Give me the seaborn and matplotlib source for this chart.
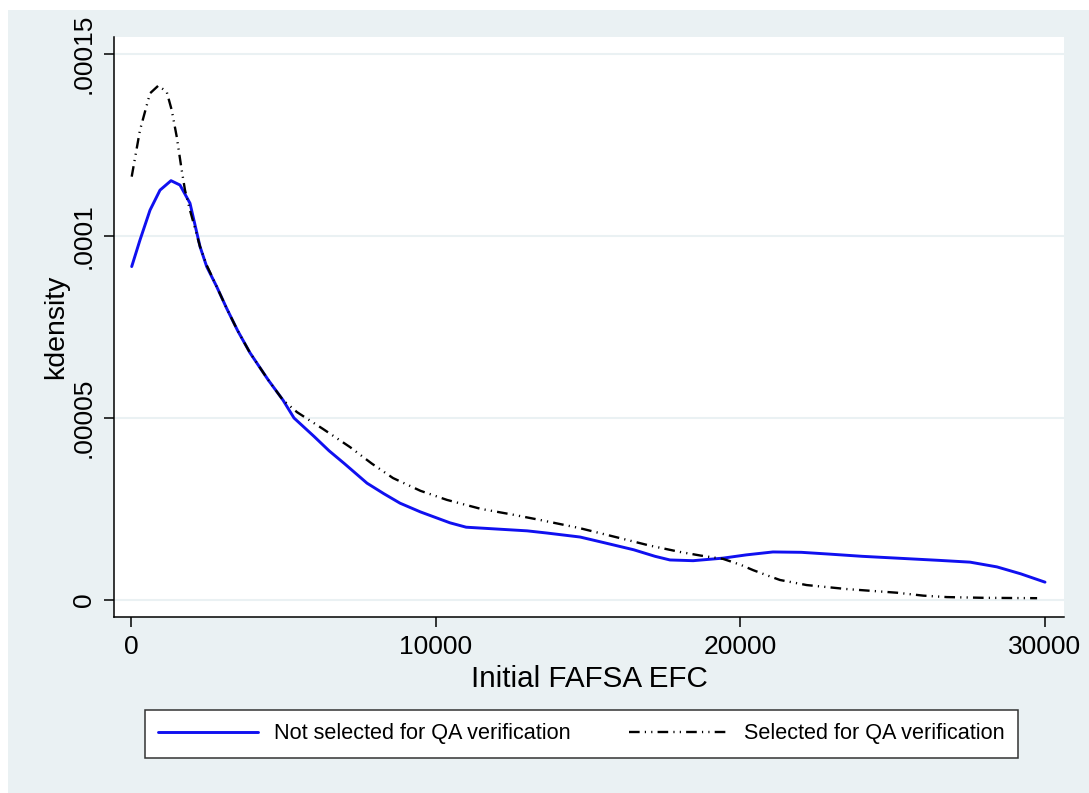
import numpy as np
import pandas as pd
import matplotlib
matplotlib.use("Agg")
import matplotlib.pyplot as plt
import seaborn as sns
from matplotlib.patches import Rectangle

## data (EFC in dollars, density in 1e-5)
efc_not_sel = [23, 295, 624, 952, 1313, 1608, 1936, 2265, 2484, 2812, 3141, 3500, 3906,
               4500, 4990, 5350, 6000, 6500, 7000, 7746, 8300, 8830, 9500, 10470, 11000,
               12000, 13000, 13650, 14740, 15500, 16500, 17200, 17690, 18450, 19430,
               20200, 21070, 22000, 22940, 24000, 25140, 26500, 27540, 28420, 29200, 30000]
dens_not_sel = [9.16, 9.89, 10.71, 11.26, 11.52, 11.40, 10.9, 9.71, 9.16, 8.61, 8.01, 7.4, 6.79,
                6.05, 5.49, 5.0, 4.5, 4.1, 3.75, 3.21, 2.92, 2.66, 2.42, 2.12, 2.0,
                1.95, 1.9, 1.84, 1.73, 1.58, 1.38, 1.2, 1.10, 1.08, 1.15,
                1.24, 1.32, 1.31, 1.26, 1.20, 1.15, 1.09, 1.04, 0.91, 0.72, 0.49]

efc_sel = [23, 295, 624, 896, 1172, 1336, 1500, 1664, 1772, 1936, 2265, 2484, 2812, 3141,
           3500, 3906, 4500, 4990, 5450, 6300, 7190, 7900, 8600, 9500, 10370, 11500,
           12500, 13420, 14700, 16050, 17000, 18020, 18700, 19430, 20000, 20420, 20900,
           21300, 22180, 23500, 25140, 26000, 26780, 28000, 29740]
dens_sel = [11.63, 12.91, 13.92, 14.13, 13.96, 13.46, 12.73, 11.81, 11.26, 10.71, 9.71, 9.2, 8.61, 8.01,
            7.4, 6.79, 6.05, 5.49, 5.16, 4.7, 4.2, 3.75, 3.35, 3.0, 2.75, 2.5,
            2.35, 2.2, 1.98, 1.7, 1.5, 1.32, 1.22, 1.13, 0.97, 0.82, 0.67,
            0.55, 0.41, 0.30, 0.20, 0.12, 0.08, 0.06, 0.05]

x_ticks = [0, 10000, 20000, 30000]
x_tick_labels = ["0", "10000", "20000", "30000"]
y_ticks = [0, 0.00005, 0.0001, 0.00015]
y_tick_labels = ["0", ".00005", ".0001", ".00015"]

df_not = pd.DataFrame({"efc": efc_not_sel, "dens": np.array(dens_not_sel) * 1e-5})
df_sel = pd.DataFrame({"efc": efc_sel, "dens": np.array(dens_sel) * 1e-5})

sns.set_theme(style="white")
plt.rcParams['font.family'] = ['Liberation Sans', 'DejaVu Sans']
plt.rcParams['text.color'] = 'black'
plt.rcParams['axes.labelcolor'] = 'black'
plt.rcParams['xtick.color'] = 'black'
plt.rcParams['ytick.color'] = 'black'

BG = "#EAF1F3"
W, H = 1089, 793
fig = plt.figure(figsize=(W / 100, H / 100), dpi=100)
fig.patch.set_facecolor("white")
fig.patches.append(Rectangle((8 / W, 0), 1 - 8 / W, 1 - 10 / H, transform=fig.transFigure,
                             facecolor=BG, edgecolor="none", zorder=-5))

ax = fig.add_axes([114 / W, 1 - 617 / H, (1064 - 114) / W, (617 - 37) / H])
ax.set_facecolor("white")

sns.lineplot(data=df_not, x="efc", y="dens", ax=ax, color="#1010F0", lw=2.1,
             sort=False, label="Not selected for QA verification", zorder=3)
sns.lineplot(data=df_sel, x="efc", y="dens", ax=ax, color="black", lw=1.7,
             sort=False, label="Selected for QA verification", zorder=4,
             linestyle=(0, (4.5, 2.2, 0.5, 2.2, 0.5, 2.2)))

ax.set_xlim(-558, 30623)
ax.set_ylim(-4.67e-6, 0.00015467)

ax.set_yticks(y_ticks)
ax.set_yticklabels(y_tick_labels, rotation=90, va="center", fontsize=19)
ax.set_xticks(x_ticks)
ax.set_xticklabels(x_tick_labels, fontsize=19)
ax.tick_params(axis="both", length=7, width=1.1, color="black", pad=6, bottom=True, left=True)

for yv in y_ticks:
    ax.axhline(yv, color=BG, lw=1.5, zorder=1)

for s in ["top", "right"]:
    ax.spines[s].set_visible(False)
for s in ["left", "bottom"]:
    ax.spines[s].set_color("black")
    ax.spines[s].set_linewidth(1.1)

ax.set_xlabel("Initial FAFSA EFC", fontsize=21.3, labelpad=4)
ax.set_ylabel("kdensity", fontsize=20.5, labelpad=2)

handles, labels = ax.get_legend_handles_labels()
ax.get_legend().remove()
leg = fig.legend(handles, labels, loc="center", ncol=2,
                 bbox_to_anchor=((143 + 1020) / 2 / W, 1 - 734 / H),
                 fontsize=15.6, frameon=True, fancybox=False, handlelength=4.6,
                 handletextpad=0.72, columnspacing=2.7, borderpad=0.62, framealpha=1)
leg.get_frame().set_edgecolor("#333333")
leg.get_frame().set_linewidth(1.1)
leg.get_frame().set_facecolor("white")

fig.savefig("out.png", dpi=100, facecolor=fig.get_facecolor())
